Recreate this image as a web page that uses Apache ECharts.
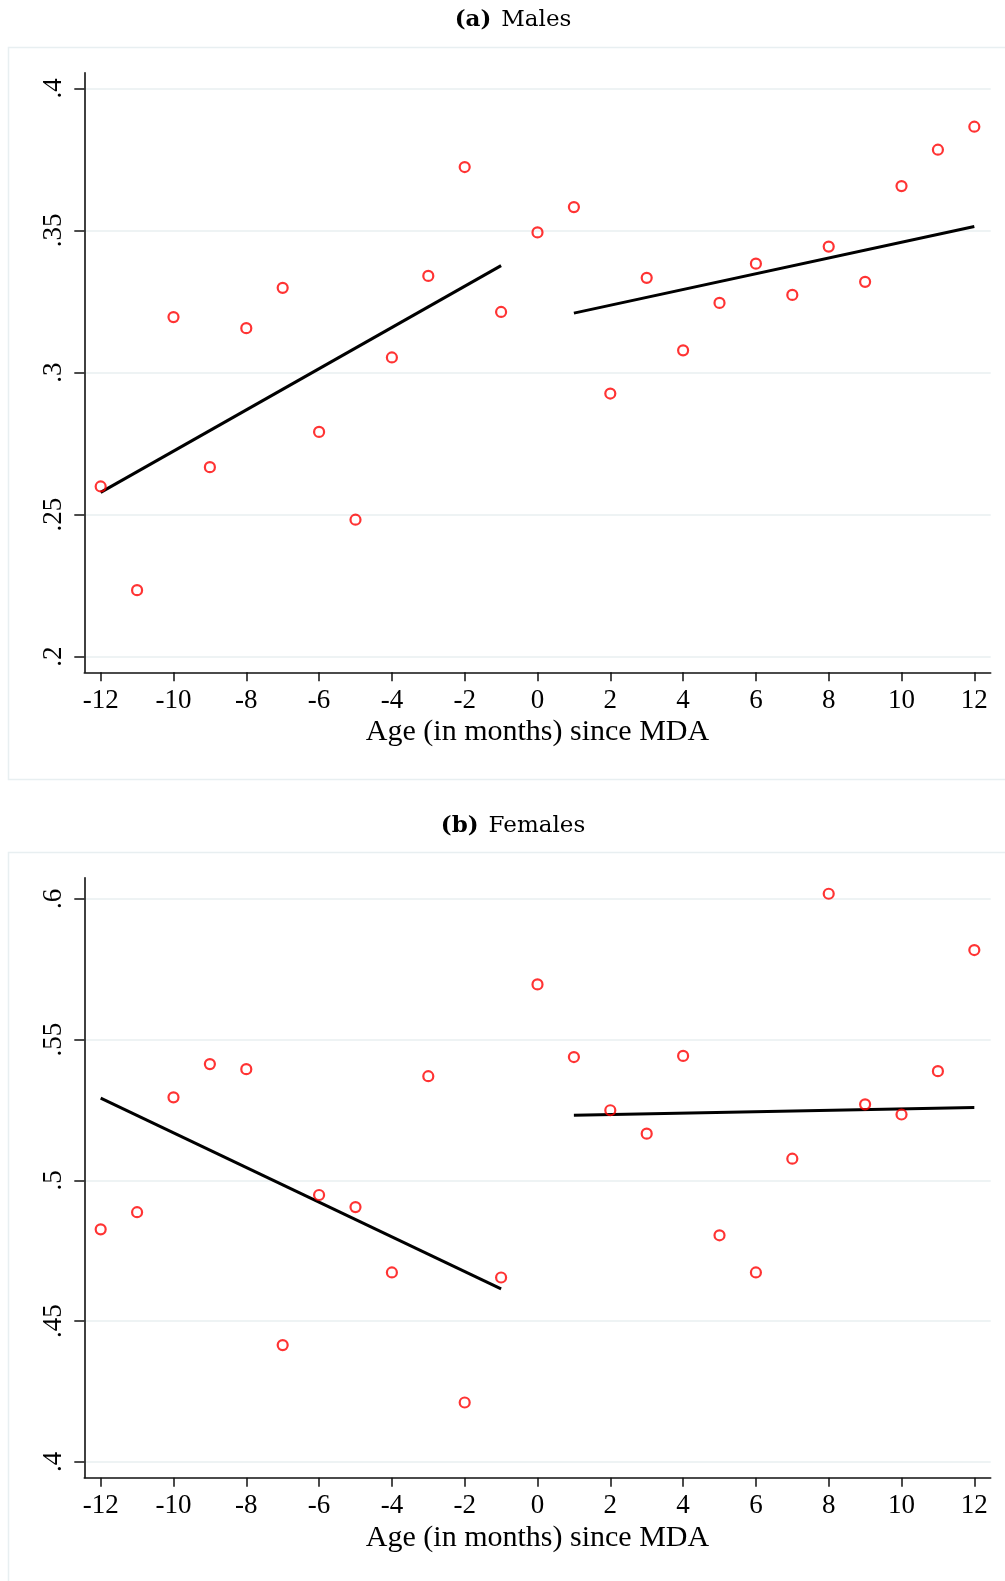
<!DOCTYPE html>
<html>
<head>
<meta charset="utf-8">
<script src="https://cdn.jsdelivr.net/npm/echarts@6/dist/echarts.min.js"></script>
<style>
  html, body { margin: 0; padding: 0; background: #ffffff; }
  #chart { width: 1005px; height: 1581px; }
</style>
</head>
<body>
<div id="chart"></div>
<script>
// Months relative to MDA
const months = [-12, -11, -10, -9, -8, -7, -6, -5, -4, -3, -2, -1, 0, 1, 2, 3, 4, 5, 6, 7, 8, 9, 10, 11, 12];

// Mean outcome by month, males
const maleShare = [0.2599, 0.2234, 0.3195, 0.2667, 0.3156, 0.3298, 0.2791, 0.2482, 0.3053, 0.3340, 0.3723, 0.3213,
                   0.3493, 0.3582, 0.2926, 0.3333, 0.3078, 0.3245, 0.3383, 0.3273, 0.3443, 0.3319, 0.3656, 0.3784, 0.3865];

// Mean outcome by month, females
const femaleShare = [0.4826, 0.4887, 0.5295, 0.5413, 0.5395, 0.4415, 0.4948, 0.4905, 0.4673, 0.5370, 0.4211, 0.4655,
                     0.5696, 0.5438, 0.5249, 0.5166, 0.5442, 0.4805, 0.4673, 0.5077, 0.6018, 0.5270, 0.5234, 0.5388, 0.5818];

// Linear fits on each side of the cutoff (end points)
const fitMonthsBefore = [-12, -1];
const fitMonthsAfter = [1, 12];
const maleFitBefore = [0.2578, 0.3376];
const maleFitAfter = [0.3209, 0.3514];
const femaleFitBefore = [0.5292, 0.4615];
const femaleFitAfter = [0.5231, 0.5259];

// Tick labels
const xTicks = [-12, -10, -8, -6, -4, -2, 0, 2, 4, 6, 8, 10, 12];
const maleYTicks = [0.2, 0.25, 0.3, 0.35, 0.4];
const femaleYTicks = [0.4, 0.45, 0.5, 0.55, 0.6];

const xTitle = 'Age (in months) since MDA';
const panelTitles = [['(a)', 'Males'], ['(b)', 'Females']];

const pairs = (xs, ys) => xs.map((x, i) => [x, ys[i]]);
const fmtY = v => String(+(+v).toFixed(2)).replace(/^0\./, '.').replace(/^-0\./, '-.');

const serif = 'Liberation Serif, Times New Roman, serif';
const gridColor = '#e8eff1';
const axisColor = '#111111';

const chart = echarts.init(document.getElementById('chart'), null, { renderer: 'canvas' });

function xAxisFor(gridIndex) {
  return {
    type: 'value', gridIndex: gridIndex,
    min: -12.45, max: 12.45,
    axisLine: { show: true, onZero: false, lineStyle: { color: axisColor, width: 1.6 } },
    axisTick: { show: true, customValues: xTicks, length: 9, inside: false, lineStyle: { color: axisColor, width: 1.5 } },
    axisLabel: { show: true, customValues: xTicks, margin: 15, color: '#000', fontFamily: serif, fontSize: 27,
                 formatter: v => String(v) },
    splitLine: { show: false },
    name: xTitle, nameLocation: 'middle', nameGap: 45,
    nameTextStyle: { color: '#000', fontFamily: serif, fontSize: 30 }
  };
}

function yAxisFor(gridIndex, min, max, ticks) {
  return {
    type: 'value', gridIndex: gridIndex,
    min: min, max: max,
    axisLine: { show: true, onZero: false, lineStyle: { color: axisColor, width: 1.6 } },
    axisTick: { show: true, customValues: ticks, length: 10, inside: false, lineStyle: { color: axisColor, width: 1.5 } },
    axisLabel: { show: true, customValues: ticks, rotate: 90, margin: 17, color: '#000', fontFamily: serif, fontSize: 27,
                 formatter: v => fmtY(v) },
    splitLine: { show: true, lineStyle: { color: gridColor, width: 1.5 } }
  };
}

function scatterSeries(idx, ys) {
  return {
    type: 'scatter', xAxisIndex: idx, yAxisIndex: idx,
    data: pairs(months, ys),
    symbol: 'circle', symbolSize: 10,
    itemStyle: { color: 'rgba(255,255,255,0)', borderColor: '#ff0000', borderWidth: 2.2 },
    emphasis: { disabled: true }, z: 3
  };
}

function fitSeries(idx, xs, ys) {
  return {
    type: 'line', xAxisIndex: idx, yAxisIndex: idx,
    data: pairs(xs, ys),
    showSymbol: false, symbol: 'none',
    lineStyle: { color: '#000000', width: 3 },
    emphasis: { disabled: true }, z: 2
  };
}

function titleFor(parts, y) {
  return {
    text: '{b|' + parts[0] + '}  {r|' + parts[1] + '}',
    left: 513, top: y, textAlign: 'center', padding: 0,
    textStyle: {
      rich: {
        b: { fontFamily: 'DejaVu Serif, serif', fontWeight: 'bold', fontSize: 23, color: '#000' },
        r: { fontFamily: 'DejaVu Serif, serif', fontWeight: 'normal', fontSize: 23, color: '#000' }
      }
    }
  };
}

chart.setOption({
  animation: false,
  backgroundColor: '#ffffff',
  title: [titleFor(panelTitles[0], 9), titleFor(panelTitles[1], 815)],
  graphic: [
    // plot-region frames
    { type: 'rect', shape: { x: 8.5, y: 47.5, width: 1010, height: 732 }, style: { fill: 'none', stroke: gridColor, lineWidth: 1.5 }, silent: true, z: -1 },
    { type: 'rect', shape: { x: 8.5, y: 852.5, width: 1010, height: 760 }, style: { fill: 'none', stroke: gridColor, lineWidth: 1.5 }, silent: true, z: -1 }
  ],
  grid: [
    { left: 84.3, top: 72.7, width: 906.4, height: 599.6, containLabel: false },
    { left: 84.3, top: 877.7, width: 906.4, height: 600, containLabel: false }
  ],
  xAxis: [xAxisFor(0), xAxisFor(1)],
  yAxis: [
    yAxisFor(0, 0.1945, 0.4055, maleYTicks),
    yAxisFor(1, 0.3944, 0.6075, femaleYTicks)
  ],
  series: [
    fitSeries(0, fitMonthsBefore, maleFitBefore),
    fitSeries(0, fitMonthsAfter, maleFitAfter),
    scatterSeries(0, maleShare),
    fitSeries(1, fitMonthsBefore, femaleFitBefore),
    fitSeries(1, fitMonthsAfter, femaleFitAfter),
    scatterSeries(1, femaleShare)
  ]
});
</script>
</body>
</html>
